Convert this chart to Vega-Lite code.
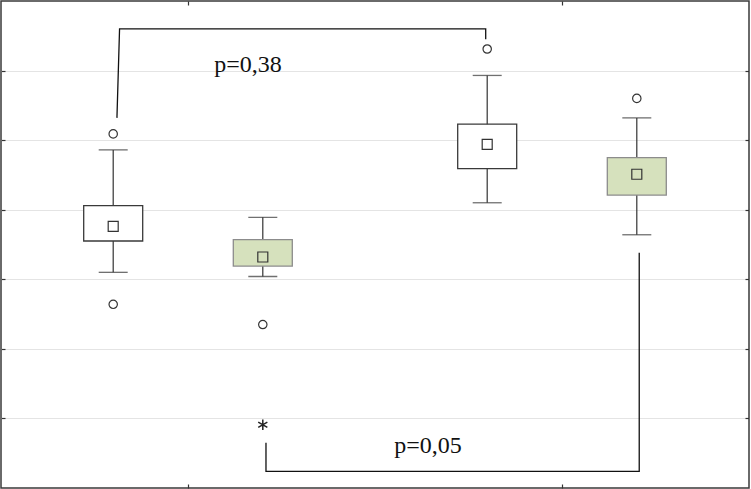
{
  "$schema": "https://vega.github.io/schema/vega-lite/v6.json",
  "width": 748,
  "height": 487,
  "autosize": "none",
  "padding": {"left": 1, "top": 1, "right": 2, "bottom": 1},
  "background": "white",
  "config": {
    "view": {"stroke": "#3a3a3a", "strokeWidth": 1.5},
    "axis": {"labels": false, "title": null, "domain": false, "tickColor": "#333", "tickSize": -4, "tickWidth": 1.2}
  },
  "datasets": {
    "boxes": [
      {"x": 0.6, "lo": 3.10, "q1": 3.55, "q3": 4.06, "hi": 4.86, "mean": 3.76, "group": "control"},
      {"x": 1.4, "lo": 3.04, "q1": 3.19, "q3": 3.57, "hi": 3.89, "mean": 3.32, "group": "treated"},
      {"x": 2.6, "lo": 4.10, "q1": 4.59, "q3": 5.23, "hi": 5.93, "mean": 4.94, "group": "control"},
      {"x": 3.4, "lo": 3.64, "q1": 4.21, "q3": 4.75, "hi": 5.32, "mean": 4.51, "group": "treated"}
    ],
    "outliers": [
      {"x": 0.6, "y": 5.09},
      {"x": 0.6, "y": 2.64},
      {"x": 1.4, "y": 2.35},
      {"x": 2.6, "y": 6.31},
      {"x": 3.4, "y": 5.60}
    ],
    "extremes": [
      {"x": 1.4, "y": 0.91}
    ],
    "brackets": [
      {"b": "b1", "o": 1, "x": 0.620, "y": 5.32},
      {"b": "b1", "o": 2, "x": 0.634, "y": 6.60},
      {"b": "b1", "o": 3, "x": 2.592, "y": 6.60},
      {"b": "b1", "o": 4, "x": 2.592, "y": 6.45},
      {"b": "b2", "o": 1, "x": 1.417, "y": 0.65},
      {"b": "b2", "o": 2, "x": 1.417, "y": 0.24},
      {"b": "b2", "o": 3, "x": 3.413, "y": 0.24},
      {"b": "b2", "o": 4, "x": 3.413, "y": 3.38}
    ],
    "labels": [
      {"x": 1.321, "y": 5.98, "text": "p=0,38"},
      {"x": 2.283, "y": 0.50, "text": "p=0,05"}
    ]
  },
  "resolve": {"axis": {"x": "independent", "y": "independent"}},
  "layer": [
    {
      "data": {"name": "boxes"},
      "mark": {"type": "rule", "color": "#333", "strokeWidth": 1.2},
      "encoding": {
        "x": {"field": "x", "type": "quantitative", "scale": {"domain": [0, 4], "nice": false, "zero": false, "padding": 0},
              "axis": {"values": [1, 3], "grid": false, "orient": "bottom"}},
        "y": {"field": "lo", "type": "quantitative", "scale": {"domain": [0, 7], "nice": false, "padding": 0},
              "axis": {"values": [1, 2, 3, 4, 5, 6], "grid": true, "gridColor": "#e4e4e4", "gridWidth": 1, "orient": "left"}},
        "y2": {"field": "hi"}
      }
    },
    {
      "data": {"name": "boxes"},
      "mark": {"type": "rule", "opacity": 0},
      "encoding": {
        "x": {"field": "x", "type": "quantitative", "axis": {"values": [1, 3], "grid": false, "orient": "top"}},
        "y": {"field": "lo", "type": "quantitative", "axis": {"values": [1, 2, 3, 4, 5, 6], "grid": false, "orient": "right"}}
      }
    },
    {
      "data": {"name": "boxes"},
      "mark": {"type": "tick", "orient": "horizontal", "size": 29, "thickness": 1.3, "color": "#333"},
      "encoding": {
        "x": {"field": "x", "type": "quantitative", "axis": null},
        "y": {"field": "lo", "type": "quantitative", "axis": null}
      }
    },
    {
      "data": {"name": "boxes"},
      "mark": {"type": "tick", "orient": "horizontal", "size": 29, "thickness": 1.3, "color": "#333"},
      "encoding": {
        "x": {"field": "x", "type": "quantitative", "axis": null},
        "y": {"field": "hi", "type": "quantitative", "axis": null}
      }
    },
    {
      "data": {"name": "boxes"},
      "mark": {"type": "bar", "size": 59, "strokeWidth": 1.3},
      "encoding": {
        "x": {"field": "x", "type": "quantitative", "axis": null},
        "y": {"field": "q1", "type": "quantitative", "axis": null},
        "y2": {"field": "q3"},
        "fill": {"field": "group", "type": "nominal", "scale": {"domain": ["control", "treated"], "range": ["#ffffff", "#d6e1bd"]}, "legend": null},
        "stroke": {"field": "group", "type": "nominal", "scale": {"domain": ["control", "treated"], "range": ["#3a3a3a", "#8c8c8c"]}, "legend": null}
      }
    },
    {
      "data": {"name": "boxes"},
      "mark": {"type": "point", "shape": "square", "size": 100, "filled": false, "stroke": "#333", "strokeWidth": 1.2, "opacity": 1},
      "encoding": {
        "x": {"field": "x", "type": "quantitative", "axis": null},
        "y": {"field": "mean", "type": "quantitative", "axis": null}
      }
    },
    {
      "data": {"name": "outliers"},
      "mark": {"type": "point", "shape": "circle", "size": 70, "filled": false, "stroke": "#333", "strokeWidth": 1.2, "opacity": 1},
      "encoding": {
        "x": {"field": "x", "type": "quantitative", "axis": null},
        "y": {"field": "y", "type": "quantitative", "axis": null}
      }
    },
    {
      "data": {"name": "extremes"},
      "mark": {"type": "point", "shape": "M0,-1L0,1M-0.87,-0.5L0.87,0.5M-0.87,0.5L0.87,-0.5", "size": 110, "filled": false, "stroke": "#222", "strokeWidth": 1.5, "opacity": 1},
      "encoding": {
        "x": {"field": "x", "type": "quantitative", "axis": null},
        "y": {"field": "y", "type": "quantitative", "axis": null}
      }
    },
    {
      "data": {"name": "brackets"},
      "mark": {"type": "line", "color": "#111", "strokeWidth": 1.3},
      "encoding": {
        "x": {"field": "x", "type": "quantitative", "axis": null},
        "y": {"field": "y", "type": "quantitative", "axis": null},
        "detail": {"field": "b", "type": "nominal"},
        "order": {"field": "o", "type": "quantitative"}
      }
    },
    {
      "data": {"name": "labels"},
      "mark": {"type": "text", "font": "Liberation Serif", "fontSize": 24, "color": "#111", "align": "center", "baseline": "alphabetic"},
      "encoding": {
        "x": {"field": "x", "type": "quantitative", "axis": null},
        "y": {"field": "y", "type": "quantitative", "axis": null},
        "text": {"field": "text", "type": "nominal"}
      }
    }
  ]
}
